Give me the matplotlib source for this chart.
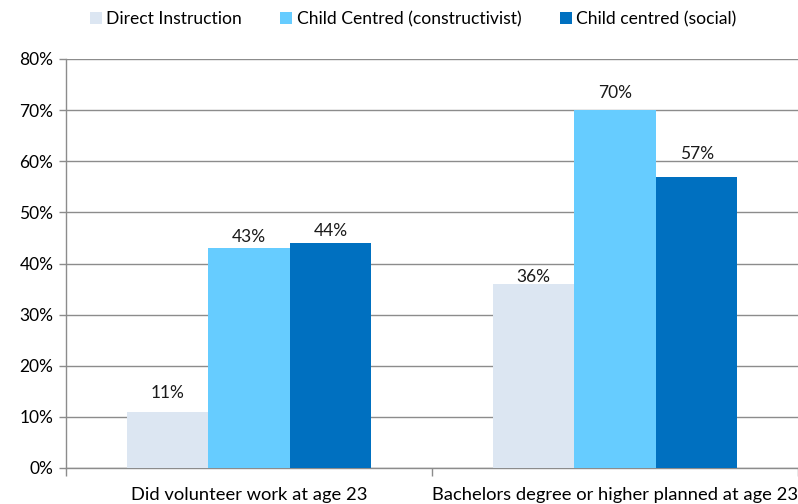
import matplotlib
matplotlib.use("Agg")
import matplotlib.pyplot as plt
import numpy as np
from matplotlib.ticker import FixedLocator

plt.rcParams['font.family'] = ['Lato', 'DejaVu Sans']

# Outcome categories and the share for each teaching style
categories = ["Did volunteer work at age 23", "Bachelors degree or higher planned at age 23"]
series_names = ["Direct Instruction", "Child Centred (constructivist)", "Child centred (social)"]
direct = [11, 36]
constructivist = [43, 70]
social = [44, 57]
yticks = [0, 10, 20, 30, 40, 50, 60, 70, 80]

COLORS = ["#DCE6F2", "#66CCFF", "#0070C0"]
GRID = "#8C8C8C"
# gap (pixels) between each bar top and its value label, per series / category
LABEL_GAP = [[14, 2], [6, 12], [7, 18]]

fig = plt.figure(figsize=(7.98, 5.04), dpi=100)
ax = fig.add_axes([66 / 798, 1 - 468 / 504, 732 / 798, 409 / 504])

x = np.arange(len(categories))
width = 0.223
for i, (vals, name, col) in enumerate(zip([direct, constructivist, social], series_names, COLORS)):
    pos = x + (i - 1) * width
    ax.bar(pos, vals, width=width, color=col, label=name, zorder=3)
    for j, (p, v) in enumerate(zip(pos, vals)):
        ax.annotate(f"{v}%", (p, v), xytext=(0, LABEL_GAP[i][j] * 0.72),
                    textcoords="offset points", ha="center", va="baseline",
                    fontsize=12.5, color="#1a1a1a", zorder=4)

ax.set_xlim(-0.5, len(categories) - 0.5)
ax.set_ylim(0, 80)
ax.set_yticks(yticks)
ax.set_yticklabels([f"{t}%" for t in yticks], fontsize=12.5)
ax.yaxis.grid(True, color=GRID, linewidth=1.0, zorder=0)
ax.set_axisbelow(True)

# category labels sit centered; small ticks mark category boundaries
ax.set_xticks(x)
ax.set_xticklabels(categories, fontsize=13.2)
ax.tick_params(axis="x", length=0, pad=14)
ax.xaxis.set_minor_locator(FixedLocator([-0.5, 0.5, 1.5]))
ax.tick_params(axis="x", which="minor", length=6, color=GRID, width=1)
ax.tick_params(axis="y", length=5, color=GRID, width=1, pad=4)

for side in ["top", "right"]:
    ax.spines[side].set_visible(False)
for side in ["left", "bottom"]:
    ax.spines[side].set_color(GRID)
    ax.spines[side].set_linewidth(1.0)

fig.legend(*ax.get_legend_handles_labels(), loc="center",
           bbox_to_anchor=(413 / 798, 1 - 19 / 504), ncol=3, frameon=False,
           fontsize=12.6, handlelength=0.68, handleheight=0.68, handletextpad=0.25,
           columnspacing=2.2)

fig.savefig("out.png", dpi=100)
